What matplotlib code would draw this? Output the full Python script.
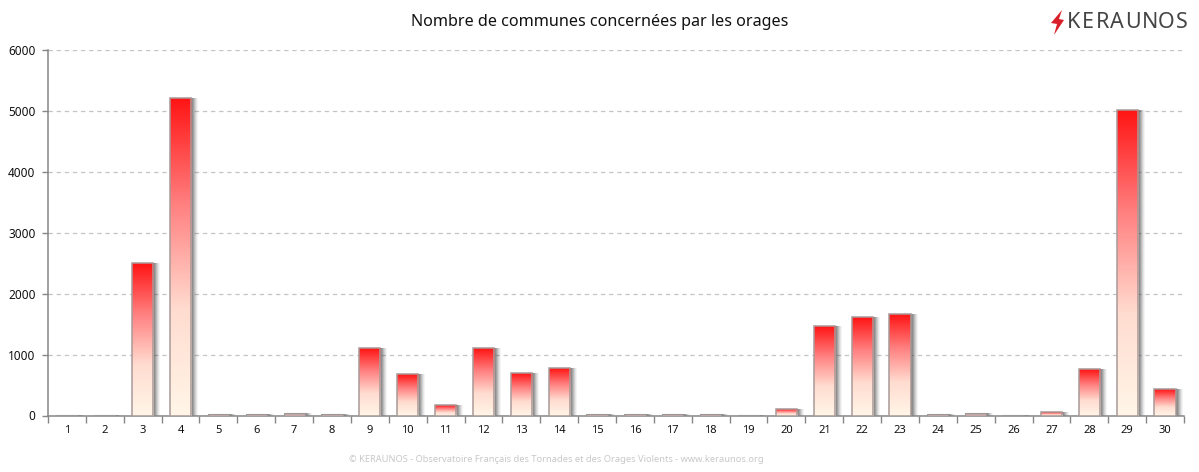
import numpy as np
import matplotlib
matplotlib.use('Agg')
import matplotlib.pyplot as plt
from matplotlib.colors import LinearSegmentedColormap
from matplotlib.patches import Polygon

plt.rcParams['font.family'] = ['Noto Sans', 'DejaVu Sans']

days = list(range(1, 31))
communes = [4, 4, 2500, 5220, 22, 22, 40, 20, 1110, 680,
            175, 1110, 700, 785, 28, 18, 18, 18, 6, 105,
            1470, 1615, 1665, 18, 40, 6, 65, 760, 5020, 435]
yticks = [0, 1000, 2000, 3000, 4000, 5000, 6000]
logo_letters = list('KERAUNOS')

W, H = 1199, 472
fig = plt.figure(figsize=(W / 100, H / 100), dpi=100)
ax = fig.add_axes([48 / W, 1 - 415.5 / H, (1184 - 48) / W, (415.5 - 50) / H])

grad = LinearSegmentedColormap.from_list('orage', ['#ff1414', '#ff8080', '#ffdcd0', '#fff6e8'])
img = np.linspace(0, 1, 256).reshape(-1, 1)
bar_w = 0.56
px = 1 / 37.87

# soft shadow on the right of every bar, stacked a pixel at a time
for k, al in [(7, 0.06), (6, 0.08), (5, 0.12), (4, 0.16), (3, 0.2), (2, 0.22), (1, 0.22)]:
    ax.bar(np.array(days) + (k - 1) * px / 2 + px, communes, width=bar_w + (k - 1) * px,
           color='#444444', alpha=al, linewidth=0, zorder=2)

for d, v in zip(days, communes):
    if v < 60:
        # tiny bars only show their grey outline
        ax.bar(d, v, width=bar_w, color='#c8a8a8', edgecolor='#999999', linewidth=0.8, zorder=3)
        continue
    im = ax.imshow(img, extent=[d - bar_w / 2, d + bar_w / 2, 0, v], aspect='auto',
                   cmap=grad, origin='upper', zorder=3)
    rect = ax.bar(d, v, width=bar_w, facecolor='none', edgecolor='#a89a98', linewidth=1.1, zorder=4)[0]
    im.set_clip_path(rect)

ax.set_xlim(0.5, 30.5)
ax.set_ylim(0, 6000)
ax.set_xticks(np.arange(0.5, 31, 1))
ax.set_xticklabels([])
ax.set_xticks(days, minor=True)
ax.set_xticklabels(days, minor=True, fontsize=8, color='#111111')
ax.tick_params(axis='x', which='major', length=5, width=1, color='#868686', direction='out')
ax.tick_params(axis='x', which='minor', length=0, pad=7)
ax.set_yticks(yticks)
ax.set_yticklabels(yticks, fontsize=8.5, color='#111111')
ax.tick_params(axis='y', length=4, width=1, color='#868686', pad=5)
ax.yaxis.grid(True, color='#c4c4c4', linestyle=(0, (3.5, 3)), linewidth=0.9)
ax.set_axisbelow(True)
for s in ['top', 'right']:
    ax.spines[s].set_visible(False)
for s in ['left', 'bottom']:
    ax.spines[s].set_color('#868686')
    ax.spines[s].set_linewidth(1.1)

fig.text(600 / W, 1 - 22 / H, 'Nombre de communes concernées par les orages', ha='center', va='center',
         fontsize=11.6, color='#111111')
fig.text(556 / W, 1 - 459 / H, '© KERAUNOS - Observatoire Français des Tornades et des Orages Violents - www.keraunos.org',
         ha='center', va='center', fontsize=6.7, color='#c8c8c8')

# logo top right, letters spaced by hand
logo_x = [1067, 1082, 1096, 1110, 1125, 1142, 1158, 1176]
for ch, x in zip(logo_letters, logo_x):
    fig.text(x / W, 1 - 22.5 / H, ch, ha='left', va='center', fontsize=15.5, color='#444444')
bolt = [(1062, 10), (1051, 23), (1057, 24), (1054, 35), (1064, 20), (1059, 19)]
fig.add_artist(Polygon([(x / W, 1 - y / H) for x, y in bolt], closed=True, color='#d9202a',
                       transform=fig.transFigure, linewidth=0))

fig.savefig('out.png', dpi=100)
